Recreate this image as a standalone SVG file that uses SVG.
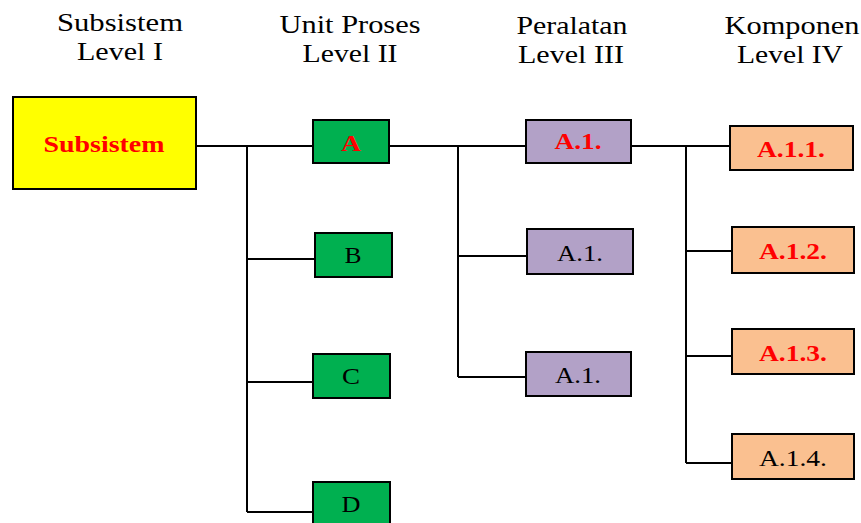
<svg xmlns="http://www.w3.org/2000/svg" width="861" height="523" viewBox="0 0 861 523">
<style>
.hd{font-family:"Liberation Serif","Times New Roman",serif;font-size:26px;fill:#000;text-anchor:middle}
.box{stroke:#000;stroke-width:2}
.lbl{font-family:"Liberation Serif","Times New Roman",serif;font-size:23px;text-anchor:middle}
.red{fill:#FF0000;font-weight:bold}
.blk{fill:#000}
.ln{stroke:#000;stroke-width:2;fill:none}
</style>
<rect width="861" height="523" fill="#fff"/>
<g id="headers">
<text class="hd" x="120" y="31" textLength="126" lengthAdjust="spacingAndGlyphs">Subsistem</text>
<text class="hd" x="120" y="60" textLength="86" lengthAdjust="spacingAndGlyphs">Level I</text>
<text class="hd" x="350" y="33" textLength="141" lengthAdjust="spacingAndGlyphs">Unit Proses</text>
<text class="hd" x="350" y="62" textLength="95" lengthAdjust="spacingAndGlyphs">Level II</text>
<text class="hd" x="572" y="34" textLength="111" lengthAdjust="spacingAndGlyphs">Peralatan</text>
<text class="hd" x="571" y="63" textLength="106" lengthAdjust="spacingAndGlyphs">Level III</text>
<text class="hd" x="792" y="34" textLength="135" lengthAdjust="spacingAndGlyphs">Komponen</text>
<text class="hd" x="790" y="63" textLength="106" lengthAdjust="spacingAndGlyphs">Level IV</text>
</g>
<g id="connectors">
<path class="ln" d="M196 146H313M247 146V512M247 259H315M247 382H313M247 512H313"/>
<path class="ln" d="M389 146H526M458 146V377M458 256H527M458 377H526"/>
<path class="ln" d="M631 146H730M686 146V463M686 251H732M686 356H732M686 463H732"/>
</g>
<g id="n-subsistem"><rect class="box" x="13" y="97" width="183" height="92" fill="#FFFF00"/><text class="lbl red" x="104" y="152" textLength="121" lengthAdjust="spacingAndGlyphs">Subsistem</text></g>
<g id="n-A"><rect class="box" x="313" y="120" width="76" height="43" fill="#00B050"/><text class="lbl red" x="351" y="151" textLength="20" lengthAdjust="spacingAndGlyphs">A</text></g>
<g id="n-B"><rect class="box" x="315" y="233" width="77" height="44" fill="#00B050"/><text class="lbl blk" x="353" y="263" textLength="17" lengthAdjust="spacingAndGlyphs">B</text></g>
<g id="n-C"><rect class="box" x="313" y="354" width="77" height="44" fill="#00B050"/><text class="lbl blk" x="351" y="384" textLength="18" lengthAdjust="spacingAndGlyphs">C</text></g>
<g id="n-D"><rect class="box" x="313" y="482" width="77" height="50" fill="#00B050"/><text class="lbl blk" x="351" y="512" textLength="19" lengthAdjust="spacingAndGlyphs">D</text></g>
<g id="n-A1a"><rect class="box" x="526" y="120" width="105" height="43" fill="#B2A1C7"/><text class="lbl red" x="578" y="149" textLength="47" lengthAdjust="spacingAndGlyphs">A.1.</text></g>
<g id="n-A1b"><rect class="box" x="527" y="229" width="106" height="45" fill="#B2A1C7"/><text class="lbl blk" x="580" y="261" textLength="46" lengthAdjust="spacingAndGlyphs">A.1.</text></g>
<g id="n-A1c"><rect class="box" x="526" y="352" width="105" height="44" fill="#B2A1C7"/><text class="lbl blk" x="578" y="383" textLength="46" lengthAdjust="spacingAndGlyphs">A.1.</text></g>
<g id="n-A11"><rect class="box" x="730" y="126" width="123" height="44" fill="#FAC090"/><text class="lbl red" x="791" y="157" textLength="68" lengthAdjust="spacingAndGlyphs">A.1.1.</text></g>
<g id="n-A12"><rect class="box" x="732" y="227" width="122" height="46" fill="#FAC090"/><text class="lbl red" x="793" y="259" textLength="68" lengthAdjust="spacingAndGlyphs">A.1.2.</text></g>
<g id="n-A13"><rect class="box" x="732" y="329" width="122" height="45" fill="#FAC090"/><text class="lbl red" x="793" y="361" textLength="68" lengthAdjust="spacingAndGlyphs">A.1.3.</text></g>
<g id="n-A14"><rect class="box" x="732" y="434" width="122" height="45" fill="#FAC090"/><text class="lbl blk" x="793" y="466" textLength="68" lengthAdjust="spacingAndGlyphs">A.1.4.</text></g>
</svg>
